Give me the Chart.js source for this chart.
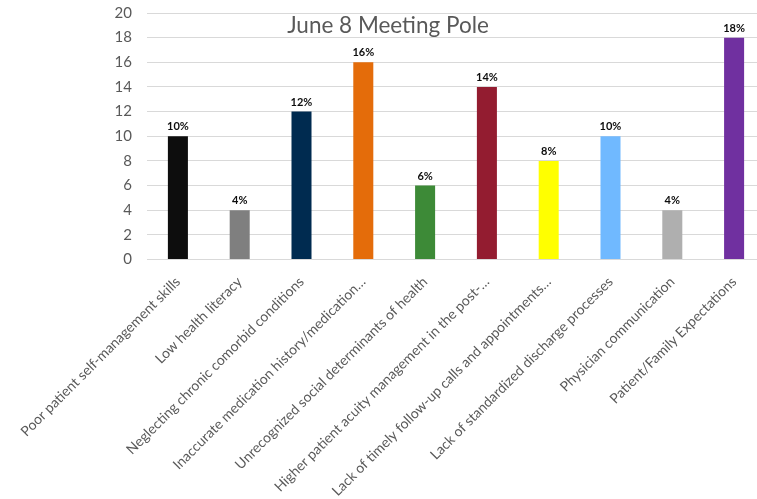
<!DOCTYPE html>
<html>
<head>
<meta charset="utf-8">
<script src="https://cdn.jsdelivr.net/npm/chart.js@4"></script>
<style>
  html, body { margin: 0; padding: 0; background: #fff; overflow: hidden; }
  #wrap { width: 770px; height: 499px; }
</style>
</head>
<body>
<div id="wrap"><canvas id="c" width="770" height="499"></canvas></div>
<script>
const chartTitle = "June 8 Meeting Pole";
const categories = [
  "Poor patient self-management skills",
  "Low health literacy",
  "Neglecting chronic comorbid conditions",
  "Inaccurate medication history/medication…",
  "Unrecognized social determinants of health",
  "Higher patient acuity management in the post-…",
  "Lack of timely follow-up calls and appointments…",
  "Lack of standardized discharge processes",
  "Physician communication",
  "Patient/Family Expectations"
];
const values = [10, 4, 12, 16, 6, 14, 8, 10, 4, 18];
const valueLabels = ["10%", "4%", "12%", "16%", "6%", "14%", "8%", "10%", "4%", "18%"];
const barColors = ["#0d0d0d", "#7f7f7f", "#002b50", "#e46c0a", "#3d8a37", "#931c30", "#ffff00", "#70b9ff", "#afafaf", "#7030a0"];
const yTicks = [0, 2, 4, 6, 8, 10, 12, 14, 16, 18, 20];

const FONT = "Lato, 'Open Sans', sans-serif";

const labelPlugin = {
  id: 'valueLabels',
  afterDatasetsDraw(chart) {
    const ctx = chart.ctx;
    const meta = chart.getDatasetMeta(0);
    ctx.save();
    ctx.font = "bold 11px " + FONT;
    ctx.fillStyle = "#0d0d0d";
    ctx.textAlign = "center";
    ctx.textBaseline = "bottom";
    meta.data.forEach((bar, i) => {
      ctx.fillText(valueLabels[i], bar.x, bar.y - 4);
    });
    ctx.restore();
  }
};

const titlePlugin = {
  id: 'overlayTitle',
  afterDraw(chart) {
    const ctx = chart.ctx;
    const a = chart.chartArea;
    ctx.save();
    ctx.font = "22.5px " + FONT;
    ctx.fillStyle = "#595959";
    ctx.textAlign = "center";
    ctx.textBaseline = "alphabetic";
    ctx.fillText(chartTitle, a.left + 241, a.top + 20);
    ctx.restore();
  }
};

new Chart(document.getElementById('c'), {
  type: 'bar',
  data: {
    labels: categories,
    datasets: [{
      data: values,
      backgroundColor: barColors,
      borderWidth: 0,
      categoryPercentage: 1,
      barPercentage: 0.324
    }]
  },
  options: {
    responsive: false,
    animation: false,
    devicePixelRatio: 1,
    layout: { padding: { top: 13, right: 5, left: 0, bottom: 0 } },
    plugins: {
      legend: { display: false },
      tooltip: { enabled: false },
      title: { display: false }
    },
    scales: {
      y: {
        min: 0,
        max: 20,
        afterBuildTicks(scale) { scale.ticks = yTicks.map(v => ({ value: v })); },
        afterFit(scale) { scale.width = 147; scale.paddingTop = 0; scale.paddingBottom = 0; },
        border: { display: false },
        grid: { color: "#d9d9d9", lineWidth: 1, drawTicks: false },
        ticks: { color: "#595959", font: { family: FONT, size: 15 }, padding: 15 }
      },
      x: {
        afterFit(scale) { scale.height = 239.5; scale.paddingLeft = 0; scale.paddingRight = 0; },
        border: { display: false },
        grid: { display: false, drawTicks: false },
        ticks: {
          color: "#595959",
          font: { family: FONT, size: 14 },
          minRotation: 45,
          maxRotation: 45,
          autoSkip: false,
          padding: 14
        }
      }
    }
  },
  plugins: [labelPlugin, titlePlugin]
});
</script>
</body>
</html>
